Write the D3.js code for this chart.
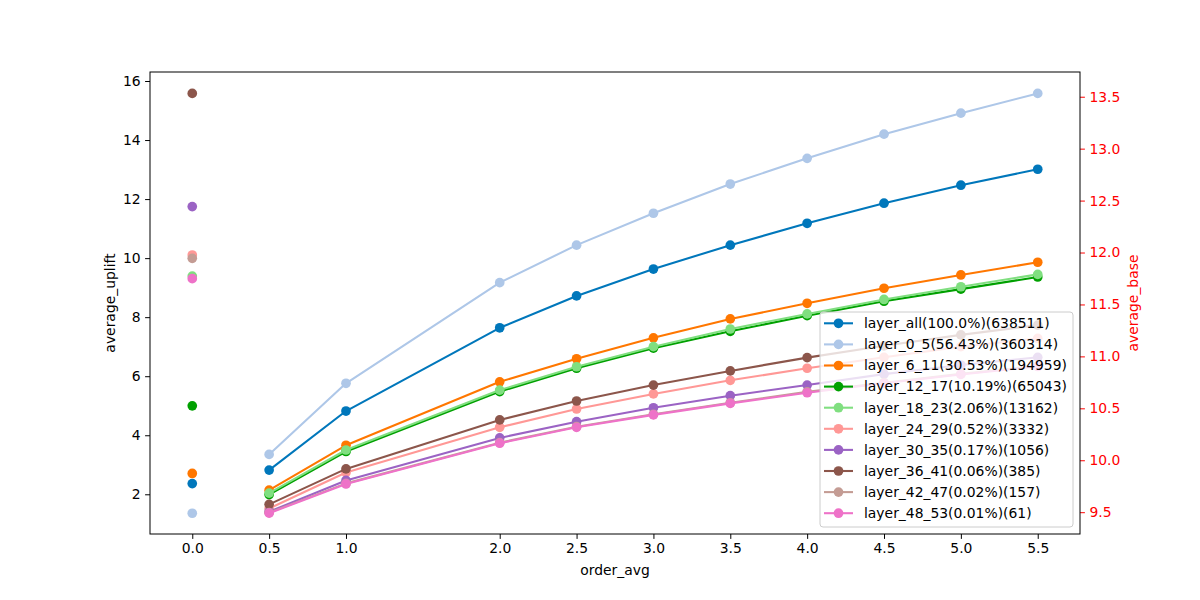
<!DOCTYPE html>
<html>
<head>
<meta charset="utf-8">
<script src="https://cdn.jsdelivr.net/npm/d3@7.9.0/dist/d3.min.js"></script>
<style>
  body { margin: 0; background: #fff; }
  text { font-family: "DejaVu Sans", sans-serif; }
</style>
</head>
<body>
<div id="chart"></div>
<script>
// x positions of the connected points
const orderAvg = [0.5, 1.0, 2.0, 2.5, 3.0, 3.5, 4.0, 4.5, 5.0, 5.5];
const xTicks = [0.0, 0.5, 1.0, 2.0, 2.5, 3.0, 3.5, 4.0, 4.5, 5.0, 5.5];

const layerNames = [
  'layer_all(100.0%)(638511)',
  'layer_0_5(56.43%)(360314)',
  'layer_6_11(30.53%)(194959)',
  'layer_12_17(10.19%)(65043)',
  'layer_18_23(2.06%)(13162)',
  'layer_24_29(0.52%)(3332)',
  'layer_30_35(0.17%)(1056)',
  'layer_36_41(0.06%)(385)',
  'layer_42_47(0.02%)(157)',
  'layer_48_53(0.01%)(61)'
];

const layerColors = ['#0077bb', '#aec7e8', '#ff7700', '#00a000', '#80df80',
  '#ff9896', '#9b63c4', '#8c564b', '#c49c94', '#ee72c8'];

// average_uplift per layer (left axis)
const upliftAll   = [2.82, 4.82, 7.64, 8.72, 9.63, 10.44, 11.18, 11.86, 12.47, 13.01];
const uplift0_5   = [3.35, 5.76, 9.17, 10.44, 11.52, 12.51, 13.38, 14.20, 14.91, 15.58];
const uplift6_11  = [2.14, 3.66, 5.81, 6.59, 7.30, 7.94, 8.47, 8.98, 9.43, 9.86];
const uplift12_17 = [1.99, 3.45, 5.48, 6.27, 6.95, 7.52, 8.05, 8.54, 8.95, 9.36];
const uplift18_23 = [2.04, 3.50, 5.53, 6.32, 7.00, 7.60, 8.11, 8.60, 9.03, 9.45];
const uplift24_29 = [1.52, 2.74, 4.27, 4.89, 5.40, 5.86, 6.27, 6.64, 7.00, 7.28];
const uplift30_35 = [1.41, 2.47, 3.91, 4.46, 4.93, 5.34, 5.70, 6.07, 6.38, 6.64];
const uplift36_41 = [1.66, 2.86, 4.52, 5.16, 5.70, 6.18, 6.63, 7.03, 7.40, 7.73];
const uplift42_47 = [1.38, 2.37, 3.75, 4.29, 4.71, 5.10, 5.47, 5.78, 6.08, 6.35];
const uplift48_53 = [1.36, 2.35, 3.73, 4.27, 4.69, 5.08, 5.44, 5.76, 6.06, 6.33];

const upliftSeries = [upliftAll, uplift0_5, uplift6_11, uplift12_17, uplift18_23,
  uplift24_29, uplift30_35, uplift36_41, uplift42_47, uplift48_53];

// average_base per layer at order_avg = 0 (right axis)
const baseValues = [9.775, 9.49, 9.873, 10.524, 11.773, 11.976, 12.442, 13.532, 11.944, 11.748];

const width = 1200;
const height = 600;
const margin = { top: 72, right: 120, bottom: 66, left: 150 };
const area = {
  left: margin.left,
  right: width - margin.right,
  top: margin.top,
  bottom: height - margin.bottom
};

const svg = d3.select('#chart').append('svg')
  .attr('width', width)
  .attr('height', height);

const xScale = d3.scaleLinear().domain([-0.275, 5.775]).range([area.left, area.right]);
const yScale = d3.scaleLinear().domain([0.655, 16.305]).range([area.bottom, area.top]);
const y2Scale = d3.scaleLinear().domain([9.29, 13.738]).range([area.bottom, area.top]);

const fontSize = 13.9;
const markerR = 4.85;

// axes
const xAxis = d3.axisBottom(xScale).tickValues(xTicks).tickFormat(d3.format('.1f'))
  .tickSizeInner(4.9).tickSizeOuter(0).tickPadding(4.5);
const yAxis = d3.axisLeft(yScale).tickValues(d3.range(2, 17, 2)).tickFormat(d3.format('d'))
  .tickSizeInner(4.9).tickSizeOuter(0).tickPadding(4.5);
const y2Axis = d3.axisRight(y2Scale).tickValues(d3.range(9.5, 13.51, 0.5)).tickFormat(d3.format('.1f'))
  .tickSizeInner(4.9).tickSizeOuter(0).tickPadding(4.5);

const gx = svg.append('g').attr('transform', `translate(0,${area.bottom})`).call(xAxis);
const gy = svg.append('g').attr('transform', `translate(${area.left},0)`).call(yAxis);
const gy2 = svg.append('g').attr('transform', `translate(${area.right},0)`).call(y2Axis);

[gx, gy, gy2].forEach(g => {
  g.select('.domain').remove();
  g.selectAll('text').style('font-size', fontSize + 'px').attr('font-family', null);
  g.selectAll('line').attr('stroke-width', 1);
});
gx.selectAll('text').attr('fill', '#000');
gy.selectAll('text').attr('fill', '#000');
gy2.selectAll('text').attr('fill', 'red');
gy2.selectAll('line').attr('stroke', 'red');

// axis labels
svg.append('text')
  .attr('x', (area.left + area.right) / 2)
  .attr('y', 575)
  .attr('text-anchor', 'middle')
  .style('font-size', fontSize + 'px')
  .text('order_avg');

svg.append('text')
  .attr('transform', `translate(115,${(area.top + area.bottom) / 2}) rotate(-90)`)
  .attr('text-anchor', 'middle')
  .style('font-size', fontSize + 'px')
  .text('average_uplift');

svg.append('text')
  .attr('transform', `translate(1138,${(area.top + area.bottom) / 2}) rotate(-90)`)
  .attr('text-anchor', 'middle')
  .attr('fill', 'red')
  .style('font-size', fontSize + 'px')
  .text('average_base');

// lines
const plot = svg.append('g');
const line = d3.line()
  .x((d, i) => xScale(orderAvg[i]))
  .y(d => yScale(d));

upliftSeries.forEach((values, k) => {
  const g = plot.append('g');
  g.append('path')
    .datum(values)
    .attr('d', line)
    .attr('fill', 'none')
    .attr('stroke', layerColors[k])
    .attr('stroke-width', 2.08)
    .attr('stroke-linejoin', 'round');
  g.selectAll('circle')
    .data(values)
    .join('circle')
    .attr('cx', (d, i) => xScale(orderAvg[i]))
    .attr('cy', d => yScale(d))
    .attr('r', markerR)
    .attr('fill', layerColors[k]);
});

// base points on the twin axis
plot.append('g').selectAll('circle')
  .data(baseValues)
  .join('circle')
  .attr('cx', xScale(0))
  .attr('cy', d => y2Scale(d))
  .attr('r', markerR)
  .attr('fill', (d, i) => layerColors[i]);

// frame
svg.append('rect')
  .attr('x', area.left)
  .attr('y', area.top)
  .attr('width', area.right - area.left)
  .attr('height', area.bottom - area.top)
  .attr('fill', 'none')
  .attr('stroke', '#000')
  .attr('stroke-width', 1);

// legend
const legendRight = 1073;
const legendBottom = 527;
const rowH = 21.1;
const legendW = 253;
const legendH = layerNames.length * rowH + 4;
const legend = svg.append('g');
legend.append('rect')
  .attr('x', legendRight - legendW)
  .attr('y', legendBottom - legendH)
  .attr('width', legendW)
  .attr('height', legendH)
  .attr('rx', 3)
  .attr('fill', 'rgba(255,255,255,0.8)')
  .attr('stroke', '#cccccc')
  .attr('stroke-width', 1);

layerNames.forEach((name, i) => {
  const cy = legendBottom - legendH + 11.3 + i * rowH;
  const x0 = legendRight - legendW + 4;
  legend.append('line')
    .attr('x1', x0).attr('x2', x0 + 29)
    .attr('y1', cy).attr('y2', cy)
    .attr('stroke', layerColors[i])
    .attr('stroke-width', 2.08);
  legend.append('circle')
    .attr('cx', x0 + 14.5)
    .attr('cy', cy)
    .attr('r', markerR)
    .attr('fill', layerColors[i]);
  legend.append('text')
    .attr('x', x0 + 40)
    .attr('y', cy)
    .attr('dy', '0.35em')
    .style('font-size', fontSize + 'px')
    .text(name);
});
</script>
</body>
</html>
